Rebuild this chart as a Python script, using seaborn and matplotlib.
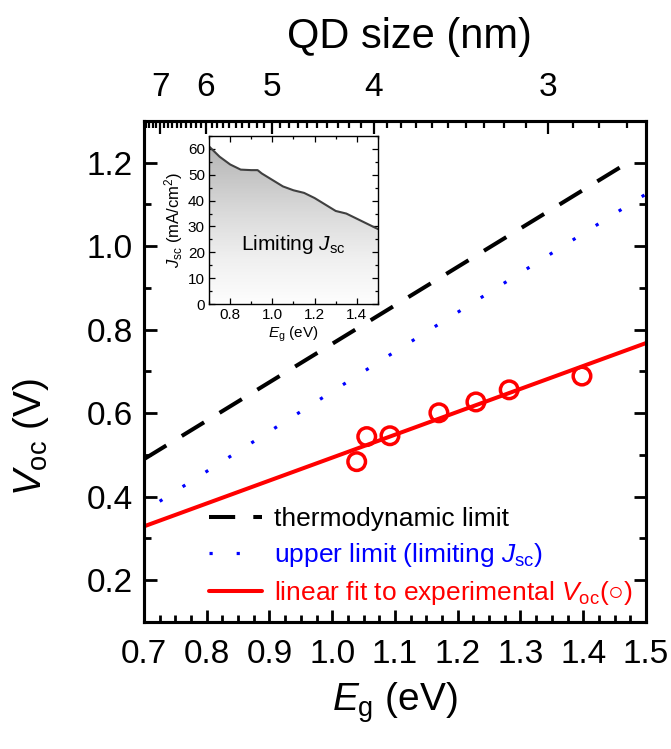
import matplotlib
matplotlib.use("Agg")
import matplotlib.pyplot as plt
import seaborn as sns
import numpy as np
import pandas as pd

# values
thermo_eg = [0.70, 1.46]
thermo_voc = [0.49, 1.19]

upper_eg = [0.725, 1.09, 1.50]
upper_voc = [0.389, 0.738, 1.125]

fit_eg = [0.70, 1.50]
fit_voc = [0.329, 0.768]

exp_eg = [1.039, 1.055, 1.092, 1.170, 1.229, 1.282, 1.398]
exp_voc = [0.484, 0.544, 0.546, 0.601, 0.627, 0.656, 0.689]

jsc_eg = [0.70, 0.75, 0.80, 0.85, 0.90, 0.93, 0.95, 1.00, 1.05, 1.10, 1.15,
          1.20, 1.25, 1.30, 1.35, 1.40, 1.45, 1.50]
jsc_val = [61, 57, 54, 52, 51.8, 51.8, 50.5, 48, 45.5, 44, 43,
           41, 38.5, 36, 35, 33, 31, 29]

qd_major = [7, 6, 5, 4, 3]


def eg_of_size(d):
    # PbS sizing curve used for the top axis
    d = np.asarray(d, dtype=float)
    return 0.415 + 1.0 / (0.0252 * d ** 2 + 0.283 * d)


sns.set_theme(style="ticks")
plt.rcParams['font.family'] = ['Liberation Sans', 'DejaVu Sans']
plt.rcParams['mathtext.fontset'] = 'custom'
plt.rcParams['mathtext.rm'] = 'Liberation Sans'
plt.rcParams['mathtext.it'] = 'Liberation Sans:italic'
for key in ['text.color', 'axes.labelcolor', 'xtick.color', 'ytick.color',
            'axes.edgecolor']:
    plt.rcParams[key] = 'black'

fig = plt.figure(figsize=(6.71, 7.49), dpi=100)
ax = fig.add_axes([0.2146, 0.1696, 0.7481, 0.6689])

sns.lineplot(x=thermo_eg, y=thermo_voc, color='black', lw=2.9,
             linestyle=(0, (6.5, 4.5)), ax=ax, label='thermodynamic limit')
sns.lineplot(x=upper_eg, y=upper_voc, color='blue', lw=2.3,
             linestyle=(0, (1, 7.5)), ax=ax, label='upper limit (limiting $J_{\\mathrm{sc}}$)')
sns.lineplot(x=fit_eg, y=fit_voc, color='red', lw=2.9, ax=ax,
             label='linear fit to experimental $V_{\\mathrm{oc}}$(\u25cb)')
exp_df = pd.DataFrame({'eg': exp_eg, 'voc': exp_voc})
sns.scatterplot(data=exp_df, x='eg', y='voc', marker='o', s=160,
                facecolor='none', edgecolor='red', linewidth=2.5, ax=ax, zorder=5)

ax.set_xlim(0.7, 1.5)
ax.set_ylim(0.1, 1.3)
ax.set_xticks(np.arange(0.7, 1.51, 0.1))
ax.set_xticks(np.arange(0.7, 1.501, 0.025), minor=True)
ax.set_yticks(np.arange(0.2, 1.21, 0.2))
ax.set_yticks(np.arange(0.1, 1.31, 0.1), minor=True)
ax.xaxis.set_major_formatter(matplotlib.ticker.FormatStrFormatter('%.1f'))
ax.yaxis.set_major_formatter(matplotlib.ticker.FormatStrFormatter('%.1f'))
ax.tick_params(which='both', direction='in', right=True, top=False,
               width=2.0, labelsize=24)
ax.tick_params(axis='x', which='both', pad=12)
ax.tick_params(axis='y', which='both', pad=8)
ax.tick_params(which='major', length=9)
ax.tick_params(which='minor', length=5)
for sp in ax.spines.values():
    sp.set_linewidth(2.2)
ax.set_xlabel('$E_{\\mathrm{g}}$ (eV)', fontsize=28, labelpad=8)
ax.set_ylabel('$V_{\\mathrm{oc}}$ (V)', fontsize=28)
ax.yaxis.set_label_coords(-0.185, 0.37)

leg = ax.legend(loc='lower left', bbox_to_anchor=(0.13, 0.03), frameon=False,
                fontsize=19, handlelength=2.0, handletextpad=0.45,
                labelspacing=0.38, borderpad=0, borderaxespad=0,
                labelcolor='linecolor')

# top axis: QD size
top = ax.twiny()
top.set_xlim(ax.get_xlim())
top.set_xticks(eg_of_size(qd_major))
top.set_xticklabels([str(d) for d in qd_major])
minor_d = np.round(np.arange(2.6, 7.6, 0.1), 1)
minor_pos = eg_of_size(minor_d)
minor_pos = minor_pos[(minor_pos >= 0.7) & (minor_pos <= 1.5)]
top.set_xticks(minor_pos, minor=True)
top.tick_params(which='both', direction='in', width=1.6, labelsize=24, pad=13)
top.tick_params(which='major', length=9)
top.tick_params(which='minor', length=5)
top.set_xlabel('QD size (nm)', fontsize=30)
top.xaxis.set_label_coords(0.528, 1.146)
for sp in top.spines.values():
    sp.set_linewidth(2.2)

# inset: limiting Jsc
ins = fig.add_axes([0.3115, 0.5941, 0.2518, 0.2243])
ins.set_xlim(0.7, 1.5)
ins.set_ylim(0, 65)
poly = ins.fill_between(jsc_eg, 0, jsc_val, color='none')
grad = np.linspace(0, 1, 256).reshape(-1, 1)
img = ins.imshow(grad, extent=[0.7, 1.5, 0, 65], origin='lower', aspect='auto',
                 cmap='Greys', vmin=-0.03, vmax=2.3)
img.set_clip_path(poly.get_paths()[0], transform=ins.transData)
sns.lineplot(x=jsc_eg, y=jsc_val, color='#404040', lw=1.5, ax=ins)
ins.set_xticks([0.8, 1.0, 1.2, 1.4])
ins.set_xticks(np.arange(0.7, 1.51, 0.1), minor=True)
ins.set_yticks(np.arange(0, 61, 10))
ins.set_yticks(np.arange(0, 66, 5), minor=True)
ins.xaxis.set_major_formatter(matplotlib.ticker.FormatStrFormatter('%.1f'))
ins.tick_params(which='both', direction='in', top=True, right=True,
                width=0.9, labelsize=11, pad=3)
ins.tick_params(which='major', length=4)
ins.tick_params(which='minor', length=2)
for sp in ins.spines.values():
    sp.set_linewidth(1.0)
ins.set_xlabel('$E_{\\mathrm{g}}$ (eV)', fontsize=11, labelpad=2)
ins.set_ylabel('$J_{\\mathrm{sc}}$ (mA/cm$^2$)', fontsize=12, labelpad=2)
ins.text(1.1, 23, 'Limiting $J_{\\mathrm{sc}}$', fontsize=15, ha='center', va='center')

fig.savefig('out.png', dpi=100)
